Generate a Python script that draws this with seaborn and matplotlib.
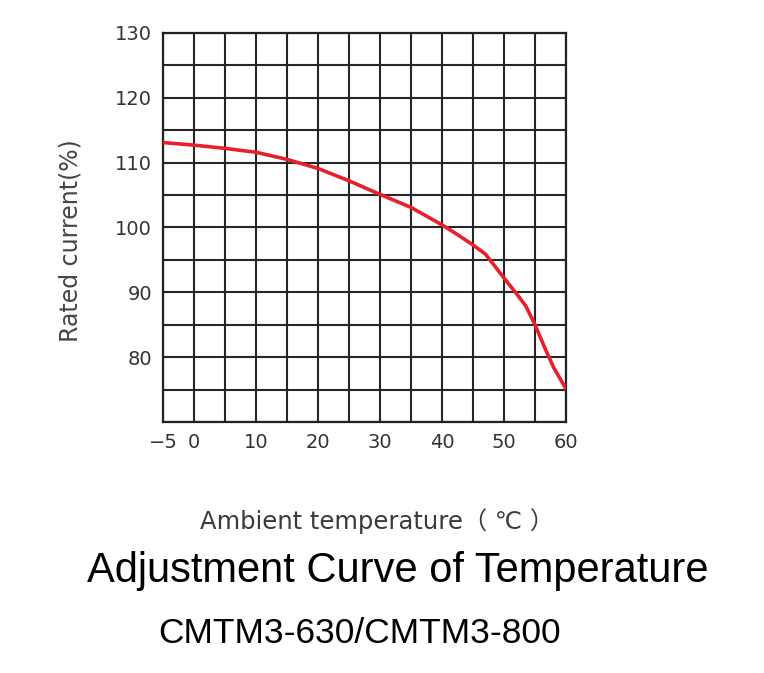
import matplotlib
matplotlib.use('Agg')
import matplotlib.pyplot as plt
import seaborn as sns
import pandas as pd
import numpy as np

# ─────────────────────────────────────────
# DATA
# ─────────────────────────────────────────
temperature = [-5, 0, 5, 10, 15, 20, 25, 30, 35, 40, 42.5, 45, 47, 50, 52, 53.5,
               55, 56.5, 58, 60]
rated_current = [113.1, 112.7, 112.2, 111.6, 110.5, 109.1, 107.2, 105.1, 103.1,
                 100.4, 98.9, 97.3, 95.9, 92.2, 89.8, 87.9, 85.0, 81.6, 78.4, 75.1]
x_ticks = [-5, 0, 10, 20, 30, 40, 50, 60]
y_ticks = [80, 90, 100, 110, 120, 130]

df = pd.DataFrame({'temp': temperature, 'current': rated_current})

sns.set_theme(style='white')
plt.rcParams['font.family'] = ['DejaVu Sans', 'Noto Sans CJK SC']

fig = plt.figure(figsize=(7.64, 6.73), dpi=100)
ax = fig.add_axes([0.2134, 0.373, 0.5275, 0.578])

# grid every 5 units
for gx in np.arange(-5, 61, 5):
    ax.axvline(gx, color='#262626', linewidth=1.5, zorder=1)
for gy in np.arange(70, 131, 5):
    ax.axhline(gy, color='#262626', linewidth=1.5, zorder=1)

sns.lineplot(data=df, x='temp', y='current', ax=ax, color='#e8202a',
             linewidth=2.6, zorder=3)

ax.set_xlim(-5, 60)
ax.set_ylim(70, 130)
ax.set_xticks(x_ticks)
ax.set_yticks(y_ticks)
ax.set_xticklabels([('\u2212' + str(-t)) if t < 0 else str(t) for t in x_ticks])
ax.tick_params(axis='both', length=0, labelsize=14, labelcolor='#333333', pad=8)
for s in ax.spines.values():
    s.set_color('#222222')
    s.set_linewidth(1.6)

ax.set_xlabel('')
ax.set_ylabel('Rated current(%)', fontsize=17, color='#444444')
ax.yaxis.set_label_coords(-0.2, 0.465)

fig.text(0.493, 0.226, 'Ambient temperature\uff08 \u2103 \uff09', ha='center', va='center',
         fontsize=17.5, color='#3a3a3a')
fig.text(0.52, 0.152, 'Adjustment Curve of Temperature', ha='center', va='center',
         fontsize=30, color='black', family='Liberation Sans')
fig.text(0.207, 0.059, 'CMTM3-630/CMTM3-800', ha='left', va='center',
         fontsize=25.5, color='black', family='Liberation Sans')

fig.savefig('out.png', dpi=100, facecolor='white')
